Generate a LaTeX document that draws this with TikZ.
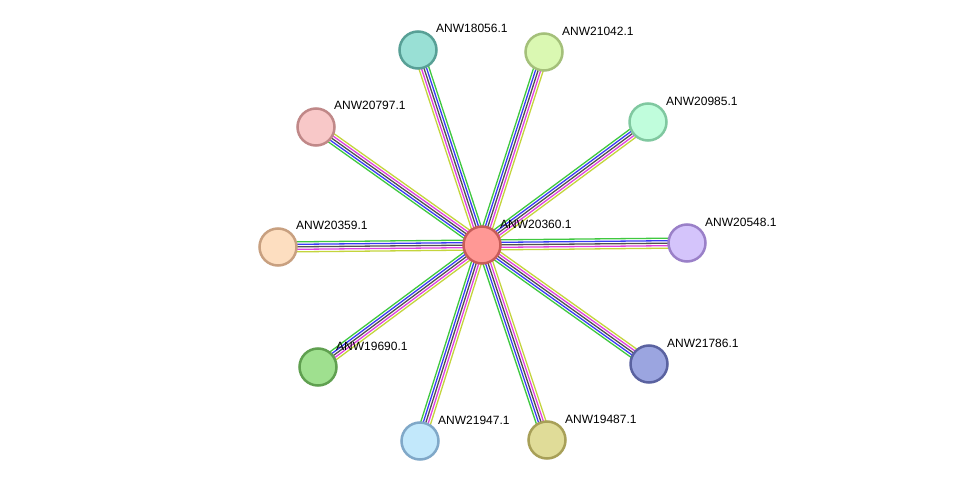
\documentclass[tikz,border=0pt]{standalone}
\usepackage{fontspec}
\setmainfont{Liberation Sans}
\usetikzlibrary{calc}
\pgfdeclarelayer{bg}
\pgfsetlayers{bg,main}
\definecolor{egreen}{HTML}{3FC83F}
\definecolor{eblue}{HTML}{3A3AF5}
\definecolor{egray}{HTML}{505050}
\definecolor{emag}{HTML}{E040E0}
\definecolor{eyel}{HTML}{C4D43C}
\tikzset{
  prot/.style={circle, minimum size=37pt, inner sep=0pt, line width=2.5pt},
  lbl/.style={anchor=west, inner sep=0pt, font=\fontsize{12}{14}\selectfont, text=black},
  eline/.style={line width=1.3pt}
}
\newcommand\bundle[3]{%
  \foreach \cc/\kk in {egreen/-2,eblue/-1,egray/0,emag/1,eyel/2}{%
    \pgfmathsetmacro\dd{\kk*#3*2.5}%
    \draw[eline,\cc] ($(#1)!\dd pt!90:(#2)$) -- ($(#2)!\dd pt!-90:(#1)$);
  }%
}
\begin{document}
\begin{tikzpicture}[x=1pt,y=-1pt]
\useasboundingbox (0,0) rectangle (975,487);
\node[prot, fill={rgb,255:red,255;green,152;blue,149}, draw={rgb,255:red,200;green,92;blue,88}] (c) at (482,245) {};
\node[prot, fill={rgb,255:red,153;green,224;blue,213}, draw={rgb,255:red,88;green,160;blue,150}] (n18056) at (418,50) {};
\node[prot, fill={rgb,255:red,218;green,248;blue,178}, draw={rgb,255:red,164;green,192;blue,122}] (n21042) at (544,52) {};
\node[prot, fill={rgb,255:red,192;green,253;blue,220}, draw={rgb,255:red,128;green,200;blue,160}] (n20985) at (648,122) {};
\node[prot, fill={rgb,255:red,248;green,200;blue,200}, draw={rgb,255:red,192;green,136;blue,136}] (n20797) at (316,127) {};
\node[prot, fill={rgb,255:red,253;green,222;blue,192}, draw={rgb,255:red,200;green,160;blue,128}] (n20359) at (278,247) {};
\node[prot, fill={rgb,255:red,212;green,196;blue,251}, draw={rgb,255:red,154;green,128;blue,200}] (n20548) at (687,243) {};
\node[prot, fill={rgb,255:red,159;green,224;blue,143}, draw={rgb,255:red,96;green,160;blue,80}] (n19690) at (318,367) {};
\node[prot, fill={rgb,255:red,155;green,165;blue,224}, draw={rgb,255:red,90;green,98;blue,160}] (n21786) at (649,364) {};
\node[prot, fill={rgb,255:red,194;green,232;blue,251}, draw={rgb,255:red,128;green,168;blue,200}] (n21947) at (420,441) {};
\node[prot, fill={rgb,255:red,224;green,220;blue,152}, draw={rgb,255:red,168;green,160;blue,88}] (n19487) at (547,440) {};
\node[lbl] (lc) at (500,224) {ANW20360.1};
\node[lbl] (l18056) at (436,28) {ANW18056.1};
\node[lbl] (l21042) at (562,31) {ANW21042.1};
\node[lbl] (l20985) at (666,101) {ANW20985.1};
\node[lbl] (l20797) at (334,105) {ANW20797.1};
\node[lbl] (l20359) at (296,225) {ANW20359.1};
\node[lbl] (l20548) at (705,222) {ANW20548.1};
\node[lbl] (l19690) at (336,346) {ANW19690.1};
\node[lbl] (l21786) at (667,343) {ANW21786.1};
\node[lbl] (l21947) at (438,420) {ANW21947.1};
\node[lbl] (l19487) at (565,419) {ANW19487.1};
\begin{pgfonlayer}{bg}
\fill[white] (0,0) rectangle (975,487);
\bundle{c}{n18056}{1}
\bundle{c}{n21042}{-1}
\bundle{c}{n20985}{-1}
\bundle{c}{n20797}{-1}
\bundle{c}{n20359}{1}
\bundle{c}{n19690}{1}
\bundle{c}{n21947}{1}
\bundle{c}{n19487}{1}
\bundle{c}{n20548}{-1}
\bundle{c}{n21786}{1}
\end{pgfonlayer}
\end{tikzpicture}
\end{document}
